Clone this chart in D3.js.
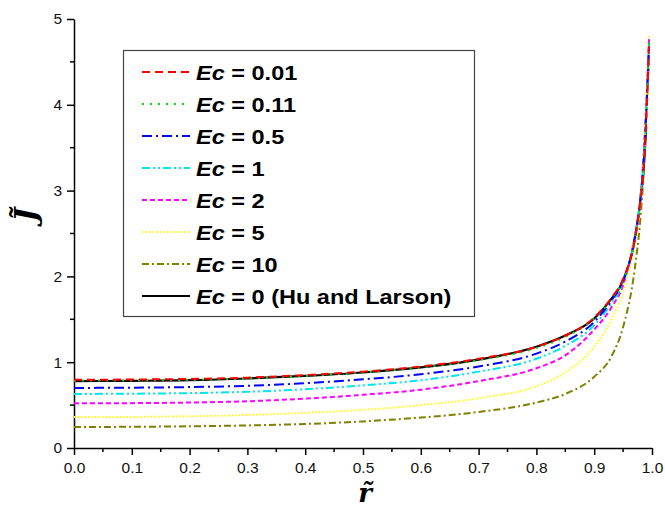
<!DOCTYPE html>
<html lang="en">
<head>
  <meta charset="utf-8" />
  <title>J vs r</title>
  <script src="https://d3js.org/d3.v7.min.js"></script>
  <style>
    html, body { margin: 0; padding: 0; background: #fff; }
    svg { display: block; font-family: "Liberation Sans", Arial, sans-serif; }
    .axis path, .axis line { stroke: #000; stroke-width: 1.5px; }
    .axis text { font-size: 15.5px; fill: #111; font-family: "Liberation Sans", Arial, sans-serif; }
  </style>
</head>
<body>
<script>
// radial positions (shared by all curves)
const rValues = [0, 0.1, 0.2, 0.3, 0.4, 0.5, 0.6, 0.7, 0.8, 0.85, 0.9, 0.93, 0.95, 0.97, 0.98, 0.985, 0.99, 0.995];

// flux values, one list per Ec
const jEc001 = [0.795, 0.798, 0.805, 0.82, 0.85, 0.89, 0.95, 1.04, 1.18, 1.31, 1.52, 1.75, 1.97, 2.42, 2.88, 3.22, 3.82, 4.75];
const jEc011 = [0.785, 0.788, 0.795, 0.81, 0.84, 0.88, 0.94, 1.025, 1.165, 1.295, 1.51, 1.74, 1.96, 2.43, 2.90, 3.26, 3.86, 4.78];
const jEc05  = [0.70, 0.703, 0.71, 0.725, 0.755, 0.80, 0.86, 0.95, 1.10, 1.24, 1.47, 1.72, 1.95, 2.44, 2.91, 3.28, 3.90, 4.70];
const jEc1   = [0.63, 0.633, 0.64, 0.655, 0.685, 0.73, 0.79, 0.89, 1.04, 1.19, 1.43, 1.69, 1.93, 2.45, 2.92, 3.31, 3.94, 4.72];
const jEc2   = [0.52, 0.523, 0.53, 0.545, 0.575, 0.62, 0.68, 0.78, 0.93, 1.08, 1.38, 1.64, 1.90, 2.46, 2.92, 3.35, 3.98, 4.78];
const jEc5   = [0.36, 0.362, 0.37, 0.385, 0.41, 0.445, 0.50, 0.58, 0.72, 0.88, 1.18, 1.50, 1.82, 2.38, 2.85, 3.28, 3.98, 4.82];
const jEc10  = [0.245, 0.247, 0.253, 0.263, 0.28, 0.31, 0.355, 0.42, 0.53, 0.63, 0.83, 1.07, 1.41, 2.08, 2.68, 3.15, 3.85, 4.55];
const jEc0   = [0.78, 0.783, 0.79, 0.81, 0.84, 0.88, 0.94, 1.03, 1.18, 1.31, 1.51, 1.74, 1.95, 2.42, 2.88, 3.20, 3.75];

const legendLabels = ["0.01", "0.11", "0.5", "1", "2", "5", "10", "0 (Hu and Larson)"];
const seriesData = [jEc001, jEc011, jEc05, jEc1, jEc2, jEc5, jEc10, jEc0];
const colors = ["#ff0000", "#00e000", "#0000ff", "#00e5ee", "#ff00ff", "#ffff00", "#808000", "#000000"];
const dashes = ["8,5", "2,6", "10,4,2,4", "8,3,2,3,2,3", "5,3", "1.5,2", "7,3,2,3", null];

const xTicks = [0, 0.1, 0.2, 0.3, 0.4, 0.5, 0.6, 0.7, 0.8, 0.9, 1.0];
const yTicks = [0, 1, 2, 3, 4, 5];

const width = 665, height = 508;
const margin = { left: 74, right: 13, top: 19, bottom: 60 };

const svg = d3.select("body").append("svg")
  .attr("width", width)
  .attr("height", height);

const x = d3.scaleLinear().domain([0, 1]).range([margin.left, width - margin.right]);
const y = d3.scaleLinear().domain([0, 5]).range([height - margin.bottom, margin.top]);

// minor ticks
const xMinor = d3.range(0.05, 1, 0.1);
const yMinor = d3.range(0.5, 5, 1);
svg.append("g").selectAll("line").data(xMinor).enter().append("line")
  .attr("x1", d => x(d)).attr("x2", d => x(d))
  .attr("y1", y(0)).attr("y2", y(0) + 4)
  .attr("stroke", "#000").attr("stroke-width", 1.5);
svg.append("g").selectAll("line").data(yMinor).enter().append("line")
  .attr("y1", d => y(d)).attr("y2", d => y(d))
  .attr("x1", x(0)).attr("x2", x(0) - 4)
  .attr("stroke", "#000").attr("stroke-width", 1.5);

// axes
svg.append("g").attr("class", "axis")
  .attr("transform", `translate(0,${y(0)})`)
  .call(d3.axisBottom(x).tickValues(xTicks).tickFormat(d3.format(".1f")).tickSize(7).tickSizeOuter(0).tickPadding(7));

svg.append("g").attr("class", "axis")
  .attr("transform", `translate(${x(0)},0)`)
  .call(d3.axisLeft(y).tickValues(yTicks).tickFormat(d3.format("d")).tickSize(7).tickSizeOuter(0).tickPadding(5));

// curves
const line = d3.line()
  .x((d, i) => x(rValues[i]))
  .y(d => y(d))
  .curve(d3.curveMonotoneX);

// draw the black reference first, then the coloured ones on top
const order = [7, 6, 5, 4, 3, 2, 1, 0];
order.forEach(i => {
  svg.append("path")
    .datum(seriesData[i])
    .attr("d", line)
    .attr("fill", "none")
    .attr("stroke", colors[i])
    .attr("stroke-width", i === 7 ? 2.2 : 2)
    .attr("stroke-dasharray", dashes[i]);
});

// legend
const legend = svg.append("g");
legend.append("rect")
  .attr("x", 123.5).attr("y", 50.5)
  .attr("width", 351).attr("height", 266)
  .attr("fill", "#fff").attr("stroke", "#444").attr("stroke-width", 1.2);

legendLabels.forEach((lab, i) => {
  const ly = 72 + i * 32;
  legend.append("line")
    .attr("x1", 142).attr("x2", 190)
    .attr("y1", ly).attr("y2", ly)
    .attr("stroke", colors[i])
    .attr("stroke-width", 2)
    .attr("stroke-dasharray", dashes[i]);
  const t = legend.append("text")
    .attr("transform", `translate(196,${ly + 7.5}) scale(1.12,1)`)
    .attr("font-size", 21).attr("font-weight", "bold").attr("fill", "#000");
  t.append("tspan").attr("font-style", "italic").text("Ec");
  t.append("tspan").text(" = " + lab);
});

// axis titles
svg.append("text")
  .attr("transform", "translate(36,215) rotate(-90)")
  .attr("text-anchor", "middle")
  .attr("font-family", "'DejaVu Serif', serif")
  .attr("font-weight", "bold").attr("font-style", "italic")
  .attr("font-size", 30)
  .text("J\u0303");

svg.append("text")
  .attr("x", 365).attr("y", 501.5)
  .attr("text-anchor", "middle")
  .attr("font-family", "'DejaVu Serif', serif")
  .attr("font-weight", "bold").attr("font-style", "italic")
  .attr("font-size", 26)
  .text("r\u0303");
</script>
</body>
</html>
